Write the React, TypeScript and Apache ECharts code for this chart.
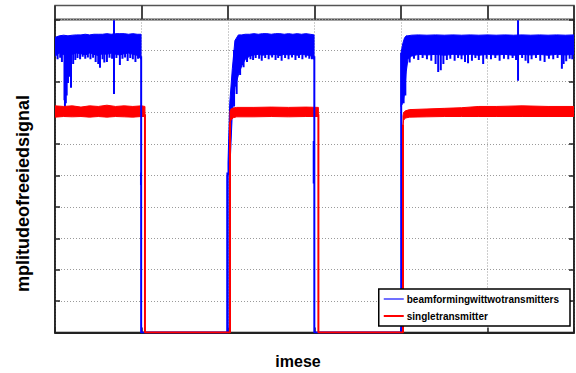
import React, { useEffect, useRef } from "react";
import * as echarts from "echarts";

// ---------------- data ----------------
const blueName = "beamformingwittwotransmitters";
const redName = "singletransmitter";
const xLabel = "imese";
const yLabel = "mplitudeofreeiedsignal";

const timeMin = 0;
const timeMax = 6;
const ampMin = 0;
const ampMax = 9.97;
const blueCoreLevel = 9.0;

// blue band segments: [time, upper, lower]
const blueBand1 = [
  [0.0, 9.4, 8.8], [0.05, 9.45, 8.9], [0.1, 9.47, 8.85], [0.15, 9.45, 8.8],
  [0.2, 9.47, 8.86], [0.25, 9.48, 8.9], [0.3, 9.48, 8.88], [0.35, 9.5, 8.84],
  [0.4, 9.48, 8.9], [0.45, 9.5, 8.86], [0.5, 9.5, 8.82], [0.55, 9.5, 8.88],
  [0.6, 9.52, 8.86], [0.65, 9.5, 8.9], [0.7, 9.52, 8.86], [0.75, 9.52, 8.84],
  [0.8, 9.52, 8.88], [0.85, 9.5, 8.9], [0.9, 9.52, 8.86], [0.95, 9.5, 8.83],
  [0.995, 9.5, 8.7],
];
const blueBand2 = [
  [2.0, 5.4, 5.0], [2.02, 7.3, 5.1], [2.05, 8.4, 7.0], [2.08, 9.3, 7.8], [2.12, 9.48, 8.2],
  [2.16, 9.48, 8.5], [2.2, 9.5, 8.7], [2.25, 9.5, 8.8], [2.3, 9.52, 8.84],
  [2.35, 9.5, 8.86], [2.4, 9.52, 8.83], [2.45, 9.52, 8.86], [2.5, 9.5, 8.84],
  [2.55, 9.52, 8.86], [2.6, 9.52, 8.82], [2.65, 9.5, 8.86], [2.7, 9.52, 8.84],
  [2.75, 9.5, 8.86], [2.8, 9.52, 8.83], [2.85, 9.5, 8.86], [2.9, 9.52, 8.84],
  [2.95, 9.5, 8.82], [2.995, 9.48, 8.7],
];
const blueBand3 = [
  [4.0, 8.9, 7.2], [4.02, 9.2, 7.3], [4.04, 9.38, 7.6], [4.06, 9.45, 8.3],
  [4.08, 9.45, 8.7], [4.12, 9.47, 8.8], [4.2, 9.48, 8.86], [4.3, 9.47, 8.84],
  [4.4, 9.48, 8.86], [4.5, 9.47, 8.83], [4.6, 9.48, 8.86], [4.7, 9.47, 8.84],
  [4.8, 9.48, 8.86], [4.9, 9.47, 8.83], [5.0, 9.48, 8.86], [5.1, 9.47, 8.84],
  [5.2, 9.48, 8.86], [5.3, 9.47, 8.83], [5.4, 9.48, 8.86], [5.5, 9.47, 8.84],
  [5.6, 9.48, 8.86], [5.7, 9.47, 8.83], [5.8, 9.48, 8.86], [5.9, 9.47, 8.84],
  [6.0, 9.48, 8.86],
];

// downward noise spikes of the blue trace: [time, lowest value]
const blueDips = [
  [0.03, 8.7], [0.06, 8.75], [0.08, 8.62], [0.11, 7.4], [0.115, 7.18], [0.125, 7.3], [0.135, 7.55], [0.15, 7.95],
  [0.165, 8.15], [0.185, 7.8], [0.21, 8.55], [0.235, 8.68], [0.26, 8.74], [0.29, 8.7],
  [0.32, 8.78], [0.35, 8.72], [0.38, 8.76], [0.41, 8.7], [0.44, 8.75], [0.47, 8.62],
  [0.5, 8.55], [0.52, 8.43], [0.55, 8.7], [0.57, 8.6], [0.6, 8.62], [0.63, 8.75],
  [0.66, 8.72], [0.71, 8.74], [0.75, 8.52], [0.78, 8.72], [0.81, 8.76], [0.84, 8.65],
  [0.87, 8.74], [0.9, 8.7], [0.93, 8.62], [0.96, 8.72],
  [2.07, 7.2], [2.1, 7.6], [2.14, 8.2], [2.18, 8.45], [2.22, 8.62], [2.26, 8.7],
  [2.29, 8.68], [2.32, 8.74], [2.36, 8.72], [2.39, 8.66], [2.43, 8.74], [2.47, 8.7],
  [2.51, 8.76], [2.55, 8.68], [2.58, 8.74], [2.62, 8.66], [2.66, 8.74], [2.7, 8.7],
  [2.74, 8.76], [2.78, 8.68], [2.82, 8.74], [2.86, 8.7], [2.9, 8.76], [2.94, 8.72],
  [2.97, 8.7],
  [4.03, 7.3], [4.05, 7.55], [4.1, 8.6], [4.15, 8.72], [4.2, 8.68], [4.25, 8.74],
  [4.3, 8.7], [4.35, 8.66], [4.4, 8.55], [4.43, 8.3], [4.46, 8.35], [4.49, 8.55],
  [4.53, 8.68], [4.57, 8.72], [4.62, 8.66], [4.66, 8.74], [4.7, 8.7], [4.74, 8.62],
  [4.775, 8.58], [4.82, 8.66], [4.86, 8.74], [4.9, 8.68], [4.95, 8.55], [4.99, 8.72],
  [5.04, 8.7], [5.09, 8.74], [5.14, 8.66], [5.19, 8.72], [5.24, 8.7], [5.29, 8.74],
  [5.33, 8.68], [5.4, 8.74], [5.44, 8.66], [5.47, 8.58], [5.51, 8.7], [5.56, 8.74],
  [5.61, 8.66], [5.66, 8.62], [5.71, 8.72], [5.76, 8.7], [5.81, 8.74], [5.86, 8.4],
  [5.88, 8.55], [5.91, 8.64], [5.95, 8.72], [5.98, 8.7],
];

// isolated blue strokes: [time, low, high]
const blueBlips = [
  [0.682, 7.6, 9.95], [0.994, 4.7, 5.1], [1.993, 0, 5.1], [2.991, 4.75, 6.1], [5.353, 8.02, 9.95],
];

// blue trace while off: [time, value]
const blueOff1 = [[0.996, 8.8], [0.996, 0], [1.995, 0], [1.995, 5.0]];
const blueOff2 = [[2.998, 8.8], [2.998, 0], [4.002, 0], [4.002, 8.9]];

// red band segments: [time, upper, lower]
const redBand1 = [
  [0.0, 7.22, 6.86], [0.1, 7.2, 6.88], [0.2, 7.22, 6.87], [0.3, 7.18, 6.88],
  [0.4, 7.22, 6.86], [0.5, 7.2, 6.88], [0.6, 7.24, 6.86], [0.7, 7.2, 6.88],
  [0.8, 7.22, 6.87], [0.9, 7.2, 6.86], [1.0, 7.22, 6.88], [1.04, 7.2, 6.88],
];
const redBand2 = [
  [2.023, 7.05, 6.67], [2.035, 7.12, 6.77], [2.06, 7.15, 6.84], [2.1, 7.17, 6.87],
  [2.3, 7.17, 6.87], [2.5, 7.18, 6.88], [2.7, 7.17, 6.87], [2.9, 7.18, 6.88],
  [3.045, 7.17, 6.88],
];
const redBand3 = [
  [4.023, 6.9, 6.6], [4.03, 7.0, 6.76], [4.05, 7.06, 6.83], [4.1, 7.1, 6.86],
  [4.3, 7.12, 6.87], [4.5, 7.14, 6.88], [4.7, 7.16, 6.88], [4.9, 7.2, 6.88],
  [5.1, 7.2, 6.88], [5.4, 7.22, 6.88], [5.7, 7.2, 6.88], [6.0, 7.2, 6.88],
];

// red trace while off: [time, value]
const redOff1 = [[1.04, 6.95], [1.04, 0], [2.023, 0], [2.023, 6.7]];
const redOff2 = [[3.045, 6.95], [3.045, 0], [4.023, 0], [4.023, 6.62]];

// ---------------- chart ----------------
const BLUE = "#0000ff";
const RED = "#ff0000";
const FONT = '"Liberation Sans", Arial, Helvetica, sans-serif';

function bandSeries(name: string, color: string, segments: number[][][]) {
  return {
    type: "custom",
    name,
    xAxisIndex: 0,
    yAxisIndex: 0,
    clip: true,
    silent: true,
    data: segments.map((seg) => [seg[0][0], seg[0][1]]),
    renderItem: (params: any, api: any) => {
      const seg = segments[params.dataIndex];
      const top = seg.map((p) => api.coord([p[0], p[1]]));
      const bot = seg
        .slice()
        .reverse()
        .map((p) => api.coord([p[0], p[2]]));
      return {
        type: "polygon",
        shape: { points: top.concat(bot) },
        style: { fill: color, stroke: color, lineWidth: 1 },
      };
    },
  };
}

function strokeSeries(name: string, color: string, items: number[][], width: number, topLevel?: number) {
  return {
    type: "custom",
    name,
    xAxisIndex: 0,
    yAxisIndex: 0,
    clip: true,
    silent: true,
    data: items,
    renderItem: (params: any, api: any) => {
      const t = api.value(0);
      const lo = api.value(1);
      const hi = topLevel !== undefined ? topLevel : api.value(2);
      const a = api.coord([t, lo]);
      const b = api.coord([t, hi]);
      return {
        type: "line",
        shape: { x1: a[0], y1: a[1], x2: b[0], y2: b[1] },
        style: { stroke: color, lineWidth: width },
      };
    },
  };
}

function pathSeries(name: string, color: string, pts: number[][]) {
  return {
    type: "line",
    name,
    xAxisIndex: 0,
    yAxisIndex: 0,
    data: pts,
    showSymbol: false,
    symbol: "none",
    silent: true,
    lineStyle: { color, width: 2 },
    itemStyle: { color },
  };
}

const gridStyle = { show: true, lineStyle: { color: "#9a9a9a", width: 1, type: [1, 2] } };

export default function App() {
  const ref = useRef<HTMLDivElement>(null);
  useEffect(() => {
    if (!ref.current) return;
    const chart = echarts.init(ref.current, undefined, { renderer: "svg" });
    chart.setOption({
      animation: false,
      backgroundColor: "#fff",
      grid: [
        { left: 55, width: 519, top: 19.5, bottom: 40.5, show: true, borderColor: "#000", borderWidth: 1.5, backgroundColor: "transparent" },
        { left: 55, width: 519, top: 5.5, height: 14, show: true, borderColor: "#555", borderWidth: 1.5 },
      ],
      xAxis: [
        {
          type: "value", gridIndex: 0, min: timeMin, max: timeMax, interval: 1,
          axisLine: { show: true, onZero: false, lineStyle: { color: "#222", width: 2 } },
          axisTick: { show: true, inside: true, length: 5, lineStyle: { color: "#222", width: 1.5 } },
          axisLabel: { show: false },
          splitLine: gridStyle,
        },
        {
          type: "value", gridIndex: 1, min: timeMin, max: timeMax, interval: 1,
          axisLine: { show: false }, axisTick: { show: false }, axisLabel: { show: false },
          splitLine: { show: true, lineStyle: { color: "#333", width: 1.8 } },
        },
      ],
      yAxis: [
        {
          type: "value", gridIndex: 0, min: ampMin, max: ampMax, interval: 1,
          axisLine: { show: true, onZero: false, lineStyle: { color: "#222", width: 1.5 } },
          axisTick: { show: true, inside: true, length: 5, lineStyle: { color: "#222", width: 1.5 } },
          axisLabel: { show: false },
          splitLine: gridStyle,
        },
        {
          type: "value", gridIndex: 0, position: "right", min: ampMin, max: ampMax, interval: 1,
          axisLine: { show: true, onZero: false, lineStyle: { color: "#222", width: 1.5 } },
          axisTick: { show: true, inside: true, length: 5, lineStyle: { color: "#222", width: 1.5 } },
          axisLabel: { show: false },
          splitLine: { show: false },
        },
        {
          type: "value", gridIndex: 1, min: 0, max: 1, show: false,
        },
      ],
      legend: {
        orient: "vertical",
        right: 6,
        bottom: 47,
        padding: [5, 11, 5, 5],
        itemGap: 7,
        itemWidth: 20,
        itemHeight: 2,
        backgroundColor: "#fff",
        borderColor: "#000",
        borderWidth: 1.5,
        borderRadius: 0,
        textStyle: { fontFamily: FONT, fontSize: 10, fontWeight: "bold", color: "#000", padding: [0, 0, 0, -2] },
        data: [
          { name: blueName, icon: "rect", itemStyle: { color: "#7070ff" } },
          { name: redName, icon: "rect", itemStyle: { color: RED } },
        ],
      },
      graphic: [
        {
          type: "text", x: 23, y: 193.5, rotation: Math.PI / 2,
          style: { text: yLabel, font: `bold 18px ${FONT}`, fill: "#000", align: "center", verticalAlign: "middle" },
        },
        {
          type: "text", x: 298, y: 361.5,
          style: { text: xLabel, font: `bold 16px ${FONT}`, fill: "#000", align: "center", verticalAlign: "middle" },
        },
      ],
      series: [
        pathSeries(blueName, BLUE, blueOff1),
        pathSeries(blueName, BLUE, blueOff2),
        bandSeries(blueName, BLUE, [blueBand1, blueBand2, blueBand3]),
        strokeSeries(blueName, BLUE, blueDips, 2, blueCoreLevel),
        strokeSeries(blueName, BLUE, blueBlips, 2),
        pathSeries(redName, RED, redOff1),
        pathSeries(redName, RED, redOff2),
        bandSeries(redName, RED, [redBand1, redBand2, redBand3]),
      ],
    });
    return () => chart.dispose();
  }, []);
  return <div ref={ref} style={{ position: "fixed", left: 0, top: 0, width: 576, height: 373 }} />;
}
